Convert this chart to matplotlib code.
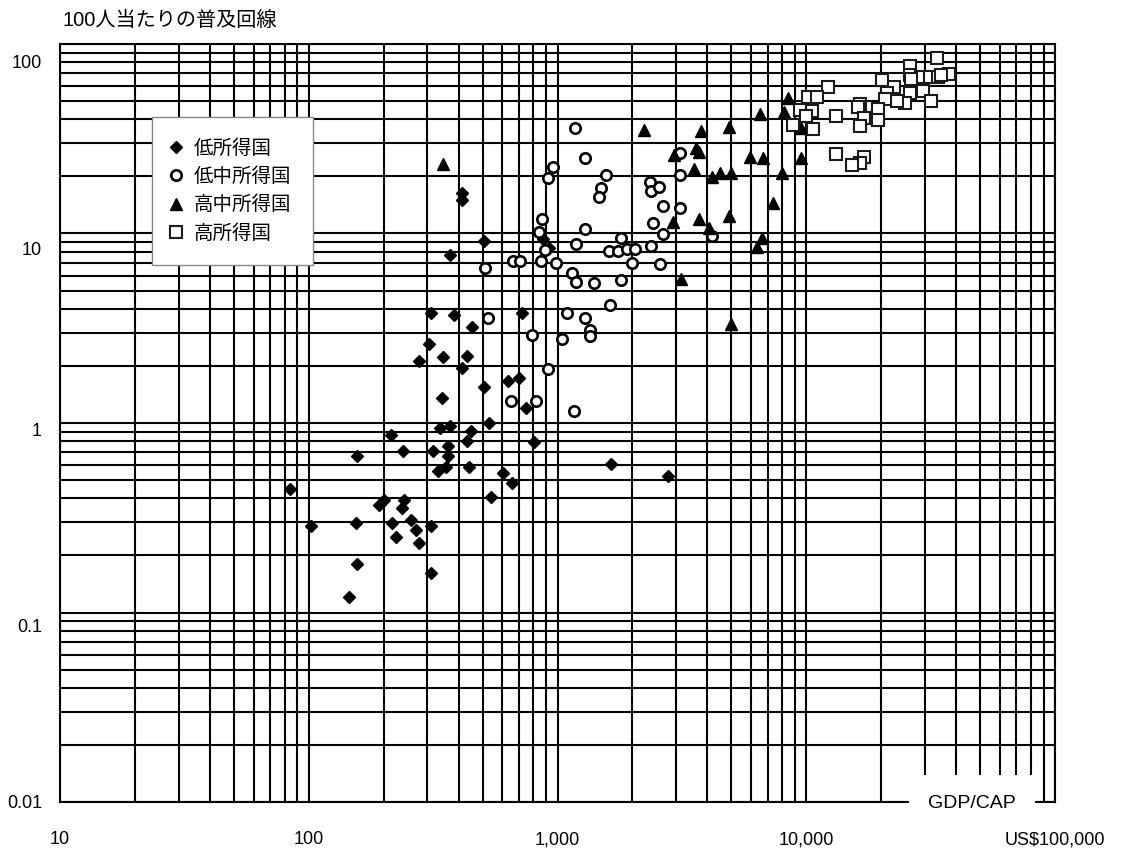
import matplotlib
matplotlib.use('Agg')
import matplotlib.pyplot as plt
from matplotlib.ticker import NullFormatter
from matplotlib.transforms import ScaledTranslation

jp = ['Liberation Sans', 'Noto Sans CJK JP']
plt.rcParams['font.family'] = jp

# low income (diamonds)
low_x = [84, 102, 157, 155, 157, 145, 192, 201, 214, 217, 224, 236, 240, 242, 257, 270,
         278, 278, 305, 310, 311, 311, 316, 331, 337, 342, 348, 356, 363, 363, 370, 370,
         382, 415, 415, 415, 434, 434, 441, 451, 452, 507, 507, 531, 539, 604, 634, 655,
         700, 718, 745, 804, 876, 924, 1638, 2773]
low_y = [0.448, 0.286, 0.671, 0.298, 0.180, 0.121, 0.369, 0.393, 0.864, 0.298, 0.251, 0.357,
         0.713, 0.393, 0.308, 0.272, 0.234, 2.12, 2.61, 3.82, 0.286, 0.161, 0.713, 0.560,
         0.945, 1.35, 2.24, 0.588, 0.757, 0.671, 0.964, 7.70, 3.71, 16.3, 15.0, 1.94, 2.26,
         0.806, 0.583, 0.908, 3.22, 1.55, 9.13, 0.996, 0.405, 0.547, 1.67, 0.484, 1.72, 3.82,
         1.20, 0.797, 9.32, 8.36, 0.608, 0.525]

# lower-middle income (open circles)
mlow_x = [1174, 3118, 1288, 958, 1560, 915, 1489, 1466, 2363, 2385, 2552, 3118, 3118, 2655,
          2414, 2655, 4173, 868, 842, 888, 1288, 1189, 1801, 1608, 1747, 1904, 2057, 2376,
          1994, 2592, 662, 707, 855, 988, 511, 1145, 1189, 1400, 1801, 1633, 1094, 1288,
          1349, 1349, 787, 1038, 527, 915, 652, 817, 1164]
mlow_y = [35.9, 26.5, 24.9, 22.5, 20.4, 19.6, 17.3, 15.5, 18.8, 16.8, 17.7, 20.4, 13.7, 14.0,
          11.4, 9.94, 9.70, 11.9, 10.2, 8.18, 10.6, 8.77, 9.50, 8.11, 8.11, 8.25, 8.25, 8.59,
          6.96, 6.88, 7.16, 7.16, 7.16, 6.96, 6.55, 6.21, 5.57, 5.50, 5.68, 4.19, 3.79, 3.57,
          3.10, 2.89, 2.91, 2.78, 3.57, 1.93, 1.31, 1.31, 1.16]

# upper-middle income (triangles)
mhigh_x = [348, 2222, 2930, 3524, 3590, 3692, 3760, 4173, 4510, 5006, 4870, 5950, 6727, 6543,
           8169, 8476, 9557, 9531, 7968, 7334, 2911, 3692, 4048, 4870, 6622, 6365, 3146, 4974]
mhigh_y = [23.3, 35.2, 25.9, 21.8, 28.3, 27.0, 34.7, 19.9, 20.8, 20.8, 36.5, 25.4, 24.9, 42.7,
           43.8, 51.7, 35.9, 24.9, 20.8, 14.5, 11.5, 11.9, 10.7, 12.3, 9.43, 8.49, 5.73, 3.33]

# high income (open squares)
high_x = [33660, 26090, 26090, 29040, 31380, 33880, 37400, 34730, 26480, 20070, 12190, 22560,
          10130, 11010, 21020, 26090, 29500, 31840, 24910, 23200, 20710, 16440, 19460, 16180,
          9444, 10510, 9981, 13120, 17050, 19340, 16440, 8877, 10680, 13120, 17050, 16440, 15300]
high_y = [84.0, 76.5, 68.6, 66.7, 66.7, 66.7, 69.4, 68.6, 65.1, 64.6, 59.5, 59.5, 52.3, 52.3,
          55.3, 55.3, 56.7, 50.2, 49.0, 50.0, 51.1, 48.2, 45.2, 46.3, 44.8, 44.5, 41.7, 41.7,
          40.8, 39.7, 36.9, 37.4, 35.6, 26.3, 25.2, 23.6, 23.0]

xticks = [10, 100, 1000, 10000, 100000]
xlabels = ['10', '100', '1,000', '10,000', 'US$100,000']
yticks = [0.01, 0.1, 1, 10, 100]
ylabels = ['0.01', '0.1', '1', '10', '100']
ylabel_drop = [0, 13, 7, 15, 18]   # px the printed labels sit below their lines

fig = plt.figure(figsize=(11.25, 8.5), dpi=100)
ax = fig.add_axes([60/1125, 1-802/850, 995/1125, 758/850])
ax.set_xscale('log')
ax.set_yscale('log')
ax.set_xlim(10, 1e5)
ax.set_ylim(0.01, 100)

ax.grid(True, which='both', color='black', lw=1.5)
for s in ax.spines.values():
    s.set_linewidth(1.5)
    s.set_color('black')

ax.set_xticks(xticks, xlabels)
ax.set_yticks(yticks, ylabels)
ax.xaxis.set_minor_formatter(NullFormatter())
ax.yaxis.set_minor_formatter(NullFormatter())
ax.tick_params(which='both', length=0, labelsize=13)
ax.tick_params(axis='x', pad=21)
ax.tick_params(axis='y', pad=13)
for lab, d in zip(ax.get_yticklabels(), ylabel_drop):
    lab.set_transform(lab.get_transform() + ScaledTranslation(0, -d/100, fig.dpi_scale_trans))

ax.plot(low_x, low_y, 'D', ms=6.5, color='black', zorder=3, label='低所得国')
ax.plot(mlow_x, mlow_y, 'o', ms=7.5, mfc='white', mec='black', mew=1.9, zorder=3,
        label='低中所得国')
ax.plot(mhigh_x, mhigh_y, '^', ms=9, color='black', zorder=3, label='高中所得国')
ax.plot(high_x, high_y, 's', ms=8, mfc='white', mec='#1a1a1a', mew=1.5, zorder=3,
        label='高所得国')

leg = ax.legend(loc='upper left', bbox_to_anchor=(152/1125, 1-117/850),
                bbox_transform=fig.transFigure, borderaxespad=0, fontsize=14,
                borderpad=1.14, labelspacing=0.5, handlelength=0.2, handletextpad=0.8,
                fancybox=False, framealpha=1)
leg.get_frame().set_edgecolor('#888888')
leg.get_frame().set_linewidth(1.0)

ax.text(972/1125, 1-803/850, 'GDP/CAP', transform=fig.transFigure, fontsize=14,
        ha='center', va='center', zorder=6, clip_on=False,
        bbox=dict(facecolor='white', edgecolor='none', pad=14))

fig.text(62/1125, 1-20/850, '100人当たりの普及回線', fontsize=14.5, va='center', ha='left')

fig.savefig('out.png', dpi=100)
